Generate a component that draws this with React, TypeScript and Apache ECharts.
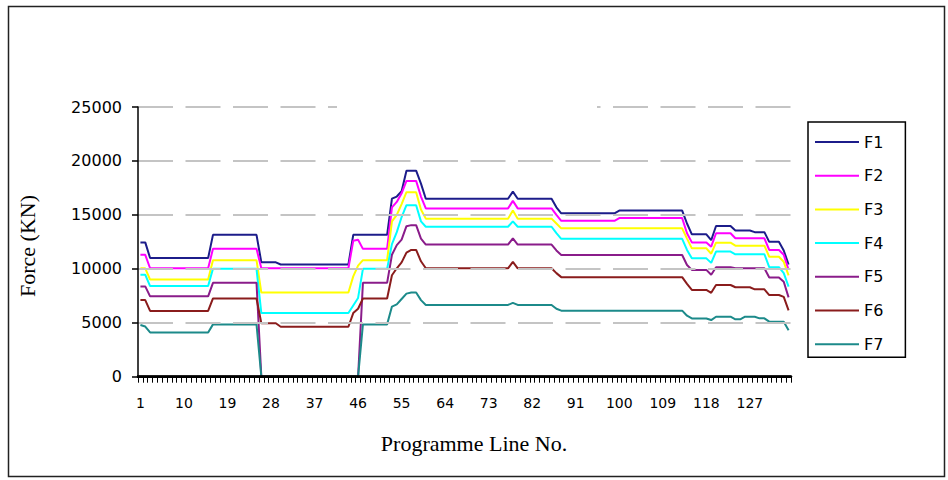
import { useEffect, useRef } from "react";
import * as echarts from "echarts";

// Programme line numbers 1..135 on the category axis
const CATEGORIES: string[] = Array.from({ length: 135 }, (_, k) => String(k + 1));

const SERIES_NAMES = ["F1", "F2", "F3", "F4", "F5", "F6", "F7"];
const SERIES_COLORS = ["#1c1c8a", "#ff00ff", "#ffff00", "#00ffff", "#8a1c8a", "#8a1c1c", "#1c8a8a"];

// Force values (KN) per programme line, 15 lines per row
const F1 = [
  12450, 12450, 11000, 11000, 11000, 11000, 11000, 11000, 11000, 11000, 11000, 11000, 11000, 11000, 11000,
  13150, 13150, 13150, 13150, 13150, 13150, 13150, 13150, 13150, 13150, 10600, 10600, 10600, 10600, 10400,
  10400, 10400, 10400, 10400, 10400, 10400, 10400, 10400, 10400, 10400, 10400, 10400, 10400, 10400, 13150,
  13150, 13150, 13150, 13150, 13150, 13150, 13150, 16500, 16700, 17200, 19100, 19100, 19100, 17900, 16500,
  16500, 16500, 16500, 16500, 16500, 16500, 16500, 16500, 16500, 16500, 16500, 16500, 16500, 16500, 16500,
  16500, 16500, 17150, 16500, 16500, 16500, 16500, 16500, 16500, 16500, 16500, 15700, 15150, 15150, 15150,
  15150, 15150, 15150, 15150, 15150, 15150, 15150, 15150, 15150, 15400, 15400, 15400, 15400, 15400, 15400,
  15400, 15400, 15400, 15400, 15400, 15400, 15400, 15400, 14200, 13200, 13200, 13200, 13200, 12650, 13970,
  13970, 13970, 13970, 13550, 13550, 13550, 13550, 13400, 13400, 13400, 12500, 12500, 12500, 11700, 10400,
];

const F2 = [
  11300, 11300, 10050, 10050, 10050, 10050, 10050, 10050, 10050, 10050, 10050, 10050, 10050, 10050, 10050,
  11850, 11850, 11850, 11850, 11850, 11850, 11850, 11850, 11850, 11850, 10050, 10050, 10050, 10050, 10050,
  10050, 10050, 10050, 10050, 10050, 10050, 10050, 10050, 10050, 10050, 10050, 10050, 10050, 10050, 12600,
  12700, 11850, 11850, 11850, 11850, 11850, 11850, 15700, 16200, 17000, 18150, 18150, 18150, 16700, 15600,
  15600, 15600, 15600, 15600, 15600, 15600, 15600, 15600, 15600, 15600, 15600, 15600, 15600, 15600, 15600,
  15600, 15600, 16300, 15600, 15600, 15600, 15600, 15600, 15600, 15600, 15600, 15000, 14450, 14450, 14450,
  14450, 14450, 14450, 14450, 14450, 14450, 14450, 14450, 14450, 14700, 14700, 14700, 14700, 14700, 14700,
  14700, 14700, 14700, 14700, 14700, 14700, 14700, 14700, 13300, 12450, 12450, 12450, 12450, 12050, 13300,
  13300, 13300, 13300, 12830, 12830, 12830, 12830, 12830, 12830, 12830, 11750, 11750, 11750, 11300, 9900,
];

const F3 = [
  10050, 10050, 9000, 9000, 9000, 9000, 9000, 9000, 9000, 9000, 9000, 9000, 9000, 9000, 9000,
  10800, 10800, 10800, 10800, 10800, 10800, 10800, 10800, 10800, 10800, 7800, 7800, 7800, 7800, 7800,
  7800, 7800, 7800, 7800, 7800, 7800, 7800, 7800, 7800, 7800, 7800, 7800, 7800, 7800, 9300,
  10300, 10800, 10800, 10800, 10800, 10800, 10800, 14400, 15000, 16000, 17100, 17100, 17100, 15500, 14650,
  14650, 14650, 14650, 14650, 14650, 14650, 14650, 14650, 14650, 14650, 14650, 14650, 14650, 14650, 14650,
  14650, 14650, 15400, 14650, 14650, 14650, 14650, 14650, 14650, 14650, 14650, 14200, 13750, 13750, 13750,
  13750, 13750, 13750, 13750, 13750, 13750, 13750, 13750, 13750, 13750, 13750, 13750, 13750, 13750, 13750,
  13750, 13750, 13750, 13750, 13750, 13750, 13750, 13750, 12800, 11900, 11900, 11900, 11900, 11400, 12420,
  12420, 12420, 12420, 12150, 12150, 12150, 12150, 12150, 12150, 12150, 11120, 11120, 11120, 10650, 9400,
];

const F4 = [
  9450, 9450, 8400, 8400, 8400, 8400, 8400, 8400, 8400, 8400, 8400, 8400, 8400, 8400, 8400,
  10000, 10000, 10000, 10000, 10000, 10000, 10000, 10000, 10000, 10000, 5900, 5900, 5900, 5900, 5900,
  5900, 5900, 5900, 5900, 5900, 5900, 5900, 5900, 5900, 5900, 5900, 5900, 5900, 5900, 6600,
  7300, 10000, 10000, 10000, 10000, 10000, 10000, 12300, 13400, 14800, 15900, 15900, 15900, 14400, 13900,
  13900, 13900, 13900, 13900, 13900, 13900, 13900, 13900, 13900, 13900, 13900, 13900, 13900, 13900, 13900,
  13900, 13900, 14400, 13900, 13900, 13900, 13900, 13900, 13900, 13900, 13900, 13300, 12780, 12780, 12780,
  12780, 12780, 12780, 12780, 12780, 12780, 12780, 12780, 12780, 12780, 12780, 12780, 12780, 12780, 12780,
  12780, 12780, 12780, 12780, 12780, 12780, 12780, 12780, 11750, 10970, 10970, 10970, 10970, 10550, 11600,
  11600, 11600, 11600, 11350, 11350, 11350, 11350, 11350, 11350, 11350, 10150, 10150, 10150, 9600, 8350,
];

const F5 = [
  8370, 8370, 7450, 7450, 7450, 7450, 7450, 7450, 7450, 7450, 7450, 7450, 7450, 7450, 7450,
  8700, 8700, 8700, 8700, 8700, 8700, 8700, 8700, 8700, 8700, 0, 0, 0, 0, 0,
  0, 0, 0, 0, 0, 0, 0, 0, 0, 0, 0, 0, 0, 0, 0,
  0, 8700, 8700, 8700, 8700, 8700, 8700, 11300, 12200, 12700, 13950, 14050, 14050, 12800, 12250,
  12250, 12250, 12250, 12250, 12250, 12250, 12250, 12250, 12250, 12250, 12250, 12250, 12250, 12250, 12250,
  12250, 12250, 12830, 12250, 12250, 12250, 12250, 12250, 12250, 12250, 12250, 11700, 11280, 11280, 11280,
  11280, 11280, 11280, 11280, 11280, 11280, 11280, 11280, 11280, 11280, 11280, 11280, 11280, 11280, 11280,
  11280, 11280, 11280, 11280, 11280, 11280, 11280, 11280, 10350, 9900, 9900, 9900, 9900, 9450, 10150,
  10150, 10150, 10150, 10050, 10050, 10050, 10050, 10050, 10050, 10050, 9200, 9200, 9200, 8800, 7350,
];

const F6 = [
  7100, 7100, 6100, 6100, 6100, 6100, 6100, 6100, 6100, 6100, 6100, 6100, 6100, 6100, 6100,
  7250, 7250, 7250, 7250, 7250, 7250, 7250, 7250, 7250, 7250, 4950, 4950, 4950, 4950, 4630,
  4630, 4630, 4630, 4630, 4630, 4630, 4630, 4630, 4630, 4630, 4630, 4630, 4630, 4630, 5900,
  6300, 7250, 7250, 7250, 7250, 7250, 7250, 9400, 10050, 10600, 11500, 11750, 11750, 10700, 10050,
  10050, 10050, 10050, 10050, 10050, 10050, 10050, 10050, 10050, 10050, 10050, 10050, 10050, 10050, 10050,
  10050, 10050, 10650, 10050, 10050, 10050, 10050, 10050, 10050, 10050, 10050, 9600, 9230, 9230, 9230,
  9230, 9230, 9230, 9230, 9230, 9230, 9230, 9230, 9230, 9230, 9230, 9230, 9230, 9230, 9230,
  9230, 9230, 9230, 9230, 9230, 9230, 9230, 9230, 8600, 8040, 8040, 8040, 8040, 7780, 8500,
  8500, 8500, 8500, 8290, 8290, 8290, 8290, 8100, 8100, 8100, 7570, 7570, 7570, 7400, 6150,
];

const F7 = [
  4790, 4650, 4100, 4100, 4100, 4100, 4100, 4100, 4100, 4100, 4100, 4100, 4100, 4100, 4100,
  4850, 4850, 4850, 4850, 4850, 4850, 4850, 4850, 4850, 4850, 0, 0, 0, 0, 0,
  0, 0, 0, 0, 0, 0, 0, 0, 0, 0, 0, 0, 0, 0, 0,
  0, 4850, 4850, 4850, 4850, 4850, 4850, 6500, 6700, 7200, 7700, 7800, 7800, 7100, 6650,
  6650, 6650, 6650, 6650, 6650, 6650, 6650, 6650, 6650, 6650, 6650, 6650, 6650, 6650, 6650,
  6650, 6650, 6850, 6650, 6650, 6650, 6650, 6650, 6650, 6650, 6650, 6300, 6120, 6120, 6120,
  6120, 6120, 6120, 6120, 6120, 6120, 6120, 6120, 6120, 6120, 6120, 6120, 6120, 6120, 6120,
  6120, 6120, 6120, 6120, 6120, 6120, 6120, 6120, 5650, 5400, 5400, 5400, 5400, 5250, 5560,
  5560, 5560, 5560, 5320, 5320, 5560, 5560, 5560, 5410, 5410, 5100, 5100, 5100, 5100, 4300,
];

const SERIES_DATA = [F1, F2, F3, F4, F5, F6, F7];

const Y_MIN = 0;
const Y_MAX = 25000;
const Y_STEP = 5000;

const SANS = "'DejaVu Sans', Verdana, sans-serif";
const SERIF = "'Liberation Serif', 'Times New Roman', serif";

export default function App() {
  const ref = useRef<HTMLDivElement>(null);

  useEffect(() => {
    if (!ref.current) return;
    const chart = echarts.init(ref.current, undefined, { renderer: "svg" });

    chart.setOption({
      animation: false,
      backgroundColor: "#ffffff",
      grid: { left: 138, right: 157, top: 107, bottom: 103.3, containLabel: false },
      legend: {
        orient: "vertical",
        left: 808,
        top: 122,
        data: SERIES_NAMES,
        icon: "rect",
        itemWidth: 44,
        itemHeight: 2,
        itemGap: 17.7,
        padding: [12, 22, 5, 7],
        borderColor: "#000",
        borderWidth: 1.5,
        textStyle: { fontFamily: SANS, fontSize: 16, color: "#000", lineHeight: 16 },
      },
      xAxis: {
        type: "category",
        data: CATEGORIES,
        boundaryGap: true,
        z: 10,
        axisLine: { lineStyle: { color: "#000", width: 2.5 } },
        axisTick: { show: true, interval: 0, length: 6, lineStyle: { color: "#000", width: 1 } },
        axisLabel: { interval: 8, margin: 19, fontFamily: SANS, fontSize: 14, color: "#000" },
        splitLine: { show: false },
      },
      yAxis: {
        type: "value",
        min: Y_MIN,
        max: Y_MAX,
        interval: Y_STEP,
        z: 10,
        axisLine: { show: true, lineStyle: { color: "#000", width: 1.5 } },
        axisTick: { show: true, length: 6, lineStyle: { color: "#000", width: 1.5 } },
        axisLabel: {
          margin: 16,
          fontFamily: SANS,
          fontSize: 16,
          color: "#000",
          formatter: (v: number) => String(v),
        },
        splitLine: { show: true, lineStyle: { color: "#c4c4c4", width: 2, type: [35, 12.5] } },
      },
      series: SERIES_NAMES.map((name, k) => ({
        name,
        type: "line",
        data: SERIES_DATA[k],
        symbol: "none",
        showSymbol: false,
        lineStyle: { width: 2, color: SERIES_COLORS[k] },
        itemStyle: { color: SERIES_COLORS[k] },
        z: 2,
      })),
      graphic: [
        // outer chart frame
        {
          type: "rect",
          z: 100,
          shape: { x: 8.5, y: 6.5, width: 936, height: 470 },
          style: { fill: "none", stroke: "#222", lineWidth: 1.5 },
        },
        // blank title strip across the top gridline
        {
          type: "rect",
          z: 100,
          shape: { x: 337, y: 102, width: 260, height: 10 },
          style: { fill: "#ffffff" },
        },
        // x axis line redrawn above the series so zero-force segments sit under it
        {
          type: "line",
          z: 100,
          shape: { x1: 137, y1: 376.7, x2: 791, y2: 376.7 },
          style: { stroke: "#000", lineWidth: 2.5 },
        },
        {
          type: "text",
          z: 100,
          x: 474,
          y: 443,
          style: {
            text: "Programme Line No.",
            font: `22px ${SERIF}`,
            fill: "#000",
            align: "center",
            verticalAlign: "middle",
          },
        },
        {
          type: "text",
          z: 100,
          x: 27,
          y: 246,
          rotation: Math.PI / 2,
          style: {
            text: "Force (KN)",
            font: `22px ${SERIF}`,
            fill: "#000",
            align: "center",
            verticalAlign: "middle",
          },
        },
      ],
    });

    return () => chart.dispose();
  }, []);

  return (
    <div
      ref={ref}
      style={{ position: "absolute", left: 0, top: 0, width: 948, height: 480, background: "#fff" }}
    />
  );
}
